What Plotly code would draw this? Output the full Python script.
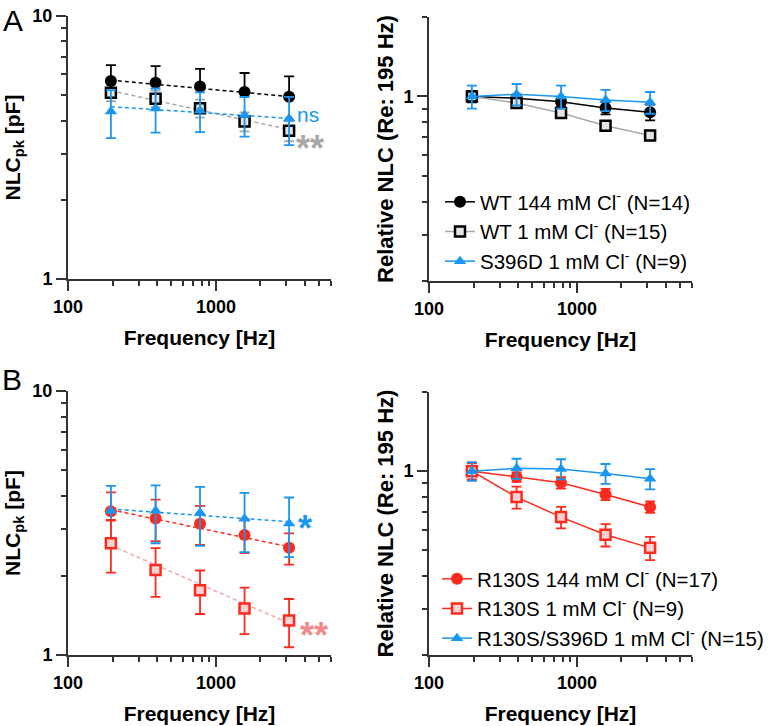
import numpy as np
import plotly.graph_objects as go

# ---------------- data ----------------
freq = [195, 391, 781, 1562, 3125]
fit_x = [195, 3125]

# Panel A (left): NLCpk [pF]
a_wt144 = [5.66, 5.57, 5.39, 5.14, 4.93]
a_wt144_err_up = [0.85, 0.88, 0.90, 0.93, 0.96]
a_wt144_err_dn = [0, 0, 0, 0, 0]
a_wt1 = [5.11, 4.85, 4.46, 3.97, 3.66]
a_wt1_err = [0.37, 0.35, 0.35, 0.33, 0.32]
a_s396d = [4.33, 4.45, 4.37, 4.20, 4.08]
a_s396d_err = [0.90, 0.85, 0.75, 0.72, 0.85]
a_fit_wt144 = [5.70, 4.94]
a_fit_wt1 = [5.20, 3.70]
a_fit_s396d = [4.52, 4.08]

# Panel A (right): relative NLC
ar_wt144 = [1.0, 0.985, 0.955, 0.905, 0.872]
ar_wt144_err = [0.05, 0.03, 0.04, 0.05, 0.06]
ar_wt1 = [1.0, 0.944, 0.865, 0.775, 0.712]
ar_wt1_err = [0.03, 0.03, 0.03, 0.03, 0.03]
ar_s396d = [1.0, 1.02, 1.0, 0.97, 0.95]
ar_s396d_err = [0.10, 0.095, 0.10, 0.09, 0.09]

# Panel B (left): NLCpk [pF]
b_r144 = [3.50, 3.29, 3.14, 2.85, 2.55]
b_r144_err_up = [0.63, 0.59, 0.53, 0.42, 0.34]
b_r144_err_dn = [0.27, 0.59, 0.53, 0.42, 0.35]
b_r1 = [2.65, 2.10, 1.76, 1.50, 1.35]
b_r1_err = [0.60, 0.44, 0.33, 0.30, 0.28]
b_rs = [3.52, 3.52, 3.46, 3.28, 3.15]
b_rs_err = [0.85, 0.87, 0.87, 0.83, 0.80]
b_fit_r144 = [3.55, 2.57]
b_fit_r1 = [2.60, 1.32]
b_fit_rs = [3.57, 3.20]

# Panel B (right): relative NLC
br_r144 = [1.0, 0.95, 0.904, 0.816, 0.731]
br_r144_err = [0.08, 0.04, 0.045, 0.04, 0.037]
br_r1 = [1.0, 0.797, 0.669, 0.573, 0.511]
br_r1_err = [0.07, 0.077, 0.063, 0.056, 0.052]
br_rs = [1.0, 1.025, 1.02, 0.98, 0.935]
br_rs_err = [0.08, 0.09, 0.09, 0.085, 0.083]

x_ticks = [100, 1000]
x_minor = [200, 300, 400, 500, 600, 700, 800, 900, 2000, 3000, 4000, 5000, 6000]
y_left_ticks = [1, 10]
y_left_minor = [2, 3, 4, 5, 6, 7, 8, 9]
y_right_ticks = [1]
y_right_minor = [0.2, 0.3, 0.4, 0.5, 0.6, 0.7, 0.8, 0.9, 2]

# ---------------- style ----------------
BLACK = "#000000"
GRAY = "#a8a8a8"
BLUE = "#1a96f0"
RED = "#ff2a1e"
PINK = "#f08a8a"
PINK_LINE = "#f5a5a5"
SQ_FILL_A = "#e4e4e4"
SQ_FILL_B = "#f9d3d3"
AX = "#333333"
FONT = "Liberation Sans"

SZ_C, SZ_S, SZ_T = 12, 10, 11

W, H = 782, 726


def px_x(p):
    return p / W


def px_y(p):
    return 1 - p / H


fig = go.Figure()


def pts(x, y, xa, ya, color, symbol, size, fill, lw, err_up, err_dn=None,
        errcolor=None, mode="markers", line=None, name=None, legend=None,
        showlegend=False):
    ed = dict(type="data", array=err_up, color=errcolor or color,
              thickness=1.8, width=5)
    if err_dn is not None:
        ed["symmetric"] = False
        ed["arrayminus"] = err_dn
    fig.add_trace(go.Scatter(
        x=x, y=y, xaxis=xa, yaxis=ya, mode=mode,
        marker=dict(symbol=symbol, size=size, color=fill,
                    line=dict(color=color, width=lw)),
        line=line, error_y=ed, name=name, legend=legend,
        showlegend=showlegend, hoverinfo="skip"))


def fit(yv, xa, ya, color):
    fig.add_trace(go.Scatter(
        x=fit_x, y=yv, xaxis=xa, yaxis=ya, mode="lines",
        line=dict(color=color, width=1.5, dash="4px,3px"),
        showlegend=False, hoverinfo="skip"))


# Panel A left
fit(a_fit_wt1, "x", "y", GRAY)
fit(a_fit_wt144, "x", "y", BLACK)
fit(a_fit_s396d, "x", "y", BLUE)
pts(freq, a_wt1, "x", "y", BLACK, "square", SZ_S, SQ_FILL_A, 2.5, a_wt1_err, errcolor=GRAY)
pts(freq, a_wt144, "x", "y", BLACK, "circle", SZ_C, BLACK, 0, a_wt144_err_up, a_wt144_err_dn)
pts(freq, a_s396d, "x", "y", BLUE, "triangle-up", SZ_T, BLUE, 0, a_s396d_err)

# Panel A right
pts(freq, ar_wt144, "x2", "y2", BLACK, "circle", SZ_C, BLACK, 0, ar_wt144_err,
    mode="lines+markers", line=dict(color=BLACK, width=1.5),
    name="WT 144 mM Cl<sup>-</sup> (N=14)", legend="legend", showlegend=True)
pts(freq, ar_wt1, "x2", "y2", BLACK, "square", SZ_S, SQ_FILL_A, 2.5, ar_wt1_err,
    errcolor=GRAY, mode="lines+markers", line=dict(color=GRAY, width=1.5),
    name="WT 1 mM Cl<sup>-</sup> (N=15)", legend="legend", showlegend=True)
pts(freq, ar_s396d, "x2", "y2", BLUE, "triangle-up", SZ_T, BLUE, 0, ar_s396d_err,
    mode="lines+markers", line=dict(color=BLUE, width=1.5),
    name="S396D 1 mM Cl<sup>-</sup> (N=9)", legend="legend", showlegend=True)

# Panel B left
fit(b_fit_r1, "x3", "y3", PINK_LINE)
fit(b_fit_r144, "x3", "y3", RED)
fit(b_fit_rs, "x3", "y3", BLUE)
pts(freq, b_r144, "x3", "y3", RED, "circle", SZ_C, RED, 0, b_r144_err_up, b_r144_err_dn)
pts(freq, b_rs, "x3", "y3", BLUE, "triangle-up", SZ_T, BLUE, 0, b_rs_err)
pts(freq, b_r1, "x3", "y3", RED, "square", SZ_S, SQ_FILL_B, 2.5, b_r1_err)

# Panel B right
pts(freq, br_r144, "x4", "y4", RED, "circle", SZ_C, RED, 0, br_r144_err,
    mode="lines+markers", line=dict(color=RED, width=1.5),
    name="R130S 144 mM Cl<sup>-</sup> (N=17)", legend="legend2", showlegend=True)
pts(freq, br_r1, "x4", "y4", RED, "square", SZ_S, SQ_FILL_B, 2.5, br_r1_err,
    mode="lines+markers", line=dict(color=RED, width=1.5),
    name="R130S 1 mM Cl<sup>-</sup> (N=9)", legend="legend2", showlegend=True)
pts(freq, br_rs, "x4", "y4", BLUE, "triangle-up", SZ_T, BLUE, 0, br_rs_err,
    mode="lines+markers", line=dict(color=BLUE, width=1.5),
    name="R130S/S396D 1 mM Cl<sup>-</sup> (N=15)", legend="legend2", showlegend=True)

tickfont = dict(family=FONT, size=18, color="black", weight="bold")
titlefont = dict(family=FONT, size=21, color="black", weight="bold")
titlefont_r = dict(family=FONT, size=22, color="black", weight="bold")


def xax(domain, anchor):
    return dict(type="log", domain=domain, anchor=anchor, automargin=False,
                range=[np.log10(100), np.log10(6000)],
                tickmode="array", tickvals=x_ticks, ticktext=[str(v) for v in x_ticks],
                ticks="outside", ticklen=10, tickwidth=2, tickcolor=AX,
                minor=dict(tickmode="array", tickvals=x_minor, ticks="outside",
                           ticklen=5, tickwidth=2, tickcolor=AX, showgrid=False),
                showline=True, linewidth=2, linecolor=AX, showgrid=False,
                zeroline=False, tickfont=tickfont,
                title=dict(text="Frequency [Hz]", font=titlefont, standoff=15))


def yax(domain, anchor, rng, tv, minor, title, tfont, standoff):
    return dict(type="log", domain=domain, anchor=anchor, range=rng, automargin=False,
                tickmode="array", tickvals=tv, ticktext=[str(v) for v in tv],
                ticks="outside", ticklen=10, tickwidth=2, tickcolor=AX,
                minor=dict(tickmode="array", tickvals=minor, ticks="outside",
                           ticklen=5, tickwidth=2, tickcolor=AX, showgrid=False),
                showline=True, linewidth=2, linecolor=AX, showgrid=False,
                zeroline=False, tickfont=tickfont,
                title=dict(text=title, font=tfont, standoff=standoff))


xl = [px_x(68), px_x(331)]
xr = [px_x(429), px_x(692)]
ya = [px_y(279), px_y(16)]
yb = [px_y(655), px_y(391)]
ya_r = [px_y(281), px_y(17)]
yb_r = [px_y(655), px_y(392)]

left_rng = [0, 1]
right_rng = [np.log10(0.2), np.log10(2)]

legfont = dict(family=FONT, size=20.5, color="black")

fig.update_layout(
    width=W, height=H, margin=dict(l=0, r=0, t=0, b=0, autoexpand=False),
    paper_bgcolor="white", plot_bgcolor="white",
    font=dict(family=FONT, color="black"),
    xaxis=xax(xl, "y"),
    yaxis=yax(ya, "x", left_rng, y_left_ticks, y_left_minor,
              "NLC<sub>pk</sub> [pF]", titlefont, 6),
    xaxis2=xax(xr, "y2"),
    yaxis2=yax(ya_r, "x2", right_rng, y_right_ticks, y_right_minor,
               "Relative NLC (Re: 195 Hz)", titlefont_r, 4),
    xaxis3=xax(xl, "y3"),
    yaxis3=yax(yb, "x3", left_rng, y_left_ticks, y_left_minor,
               "NLC<sub>pk</sub> [pF]", titlefont, 6),
    xaxis4=xax(xr, "y4"),
    yaxis4=yax(yb_r, "x4", right_rng, y_right_ticks, y_right_minor,
               "Relative NLC (Re: 195 Hz)", titlefont_r, 4),
    legend=dict(x=px_x(440), y=px_y(182), xanchor="left", yanchor="top",
                font=legfont, bgcolor="rgba(0,0,0,0)", itemwidth=30,
                tracegroupgap=0),
    legend2=dict(x=px_x(437), y=px_y(559), xanchor="left", yanchor="top",
                 font=legfont, bgcolor="rgba(0,0,0,0)", itemwidth=30,
                 tracegroupgap=0),
    showlegend=True,
)

ann = [
    dict(text="A", x=px_x(13), y=px_y(20), size=30, color="black", bold=False),
    dict(text="B", x=px_x(12), y=px_y(380), size=30, color="black", bold=False),
    dict(text="ns", x=px_x(308), y=px_y(114), size=21, color=BLUE, bold=False),
    dict(text="**", x=px_x(310), y=px_y(148), size=36, color=GRAY, bold=True),
    dict(text="*", x=px_x(305), y=px_y(528), size=36, color=BLUE, bold=True),
    dict(text="**", x=px_x(314), y=px_y(635), size=36, color=PINK, bold=True),
]
for a in ann:
    fig.add_annotation(text=a["text"], x=a["x"], y=a["y"], xref="paper", yref="paper",
                       showarrow=False, xanchor="center", yanchor="middle",
                       font=dict(family=FONT, size=a["size"], color=a["color"],
                                 weight="bold" if a["bold"] else "normal"))

# remove the default 8px page margin so the figure fills the window exactly
fig.write_html("out.html",
               config={"displayModeBar": False},
               post_script="document.body.style.margin='0px';"
                           "document.body.style.overflow='hidden';")
